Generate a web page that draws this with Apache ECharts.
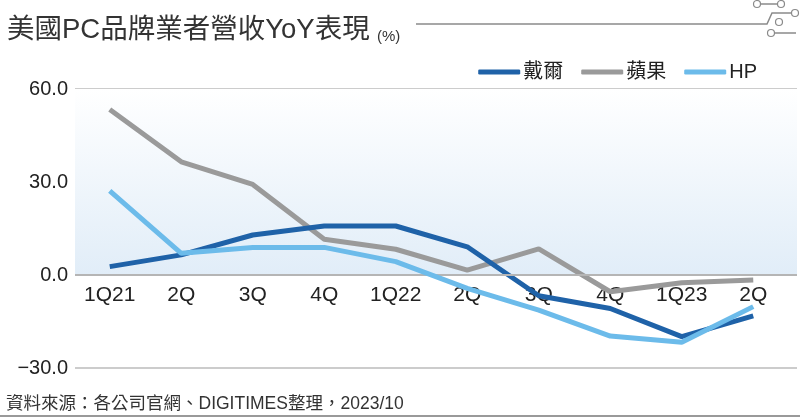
<!DOCTYPE html>
<html><head><meta charset="utf-8">
<script src="https://cdn.jsdelivr.net/npm/echarts@6/dist/echarts.min.js"></script>
<style>html,body{margin:0;padding:0;background:#fff}#c{width:800px;height:417px}</style>
</head><body><div id="c"></div>
<script>
const categories = ['1Q21','2Q','3Q','4Q','1Q22','2Q','3Q','4Q','1Q23','2Q'];
const dell  = [2.7, 6.5, 12.9, 15.8, 15.8, 9.1, -6.7, -10.8, -19.9, -13.2];
const apple = [53.4, 36.5, 29.2, 11.5, 8.3, 1.6, 8.4, -5.4, -2.5, -1.6];
const hp    = [27.1, 7.0, 8.9, 8.9, 4.3, -4.3, -11.3, -19.7, -21.7, -10.2];
const seriesNames = ['戴爾','蘋果','HP'];
const yTicks = {min:-30, max:60, interval:30};

const NUM = '"Liberation Sans",Arial,sans-serif';
const CJK = '"Liberation Sans","Noto Sans CJK TC",sans-serif';
const chart = echarts.init(document.getElementById('c'));
const fmt = v => (v < 0 ? '\u2212' : '') + Math.abs(v).toFixed(1);
const colors = ['#1f62a8','#9a9a9a','#6cbbea'];

chart.setOption({
  animation:false,
  grid:[
    {left:75, right:3, top:89, bottom:49},
    {left:74, right:11, top:89, bottom:49}
  ],
  xAxis:[
    {gridIndex:0, type:'category', data:categories, show:false},
    {gridIndex:1, type:'category', data:categories, boundaryGap:true, position:'bottom', offset:-93,
     axisLine:{show:false, onZero:false}, axisTick:{show:false},
     axisLabel:{color:'#222', fontSize:21, fontFamily:NUM, margin:10}}
  ],
  yAxis:[
    {gridIndex:0, type:'value', min:yTicks.min, max:yTicks.max, interval:yTicks.interval,
     axisLine:{show:false}, axisTick:{show:false},
     axisLabel:{color:'#222', fontSize:20, fontFamily:NUM, margin:7, formatter:fmt},
     splitLine:{lineStyle:{color:'#cccccc', width:2}}},
    {gridIndex:1, type:'value', min:yTicks.min, max:yTicks.max, interval:yTicks.interval, show:false}
  ],
  legend:{
    right:38, top:57, itemWidth:42, itemHeight:5, itemGap:18, icon:'roundRect',
    textStyle:{color:'#222', fontSize:20, fontFamily:CJK, padding:[0,0,0,-2]},
    data:seriesNames
  },
  series:[
    {type:'line', xAxisIndex:0, yAxisIndex:0, data:[], silent:true,
     markArea:{silent:true, itemStyle:{color:{type:'linear',x:0,y:0,x2:0,y2:1,
       colorStops:[{offset:0,color:'#ffffff'},{offset:1,color:'#e1edf8'}]}},
       data:[[{yAxis:60},{yAxis:0}]]},
     markLine:{silent:true, symbol:'none', label:{show:false},
       lineStyle:{color:'#b5b5b5', width:2, type:'solid'}, data:[{yAxis:0}]}},
    {name:seriesNames[0], type:'line', xAxisIndex:1, yAxisIndex:1, data:dell, symbol:'none',
     lineStyle:{color:colors[0], width:5}, itemStyle:{color:colors[0]}, z:4},
    {name:seriesNames[1], type:'line', xAxisIndex:1, yAxisIndex:1, data:apple, symbol:'none',
     lineStyle:{color:colors[1], width:5}, itemStyle:{color:colors[1]}, z:3},
    {name:seriesNames[2], type:'line', xAxisIndex:1, yAxisIndex:1, data:hp, symbol:'none',
     lineStyle:{color:colors[2], width:5}, itemStyle:{color:colors[2]}, z:5}
  ],
  graphic:[
    {type:'text', left:7, top:17, style:{text:'美國PC品牌業者營收YoY表現', fontSize:27.5, fontFamily:CJK, fill:'#333'}},
    {type:'text', left:377, top:29, style:{text:'(%)', fontSize:15, fontFamily:NUM, fill:'#333'}},
    {type:'polyline', shape:{points:[[416,24],[767,24],[772,13],[792,13]]}, style:{stroke:'#8a8a8a', lineWidth:1.5, fill:null}},
    {type:'line', shape:{x1:760,y1:4,x2:778,y2:4}, style:{stroke:'#8a8a8a', lineWidth:1.5}},
    {type:'circle', shape:{cx:757,cy:4,r:3.5}, style:{stroke:'#8a8a8a', lineWidth:1.2, fill:'#fff'}},
    {type:'circle', shape:{cx:781,cy:4,r:3.5}, style:{stroke:'#8a8a8a', lineWidth:1.2, fill:'#fff'}},
    {type:'circle', shape:{cx:795,cy:13,r:3.5}, style:{stroke:'#8a8a8a', lineWidth:1.2, fill:'#fff'}},
    {type:'circle', shape:{cx:779,cy:22,r:3.5}, style:{stroke:'#8a8a8a', lineWidth:1.2, fill:'#fff'}},
    {type:'line', shape:{x1:774,y1:33,x2:796,y2:33}, style:{stroke:'#8a8a8a', lineWidth:1.5}},
    {type:'circle', shape:{cx:771,cy:33,r:3.5}, style:{stroke:'#8a8a8a', lineWidth:1.2, fill:'#fff'}},
    {type:'text', left:6, top:395, style:{text:'資料來源：各公司官網、DIGITIMES整理，2023/10', fontSize:17.5, fontFamily:CJK, fill:'#333'}},
    {type:'line', shape:{x1:0,y1:416,x2:800,y2:416}, style:{stroke:'#999', lineWidth:2}}
  ]
});
</script></body></html>
